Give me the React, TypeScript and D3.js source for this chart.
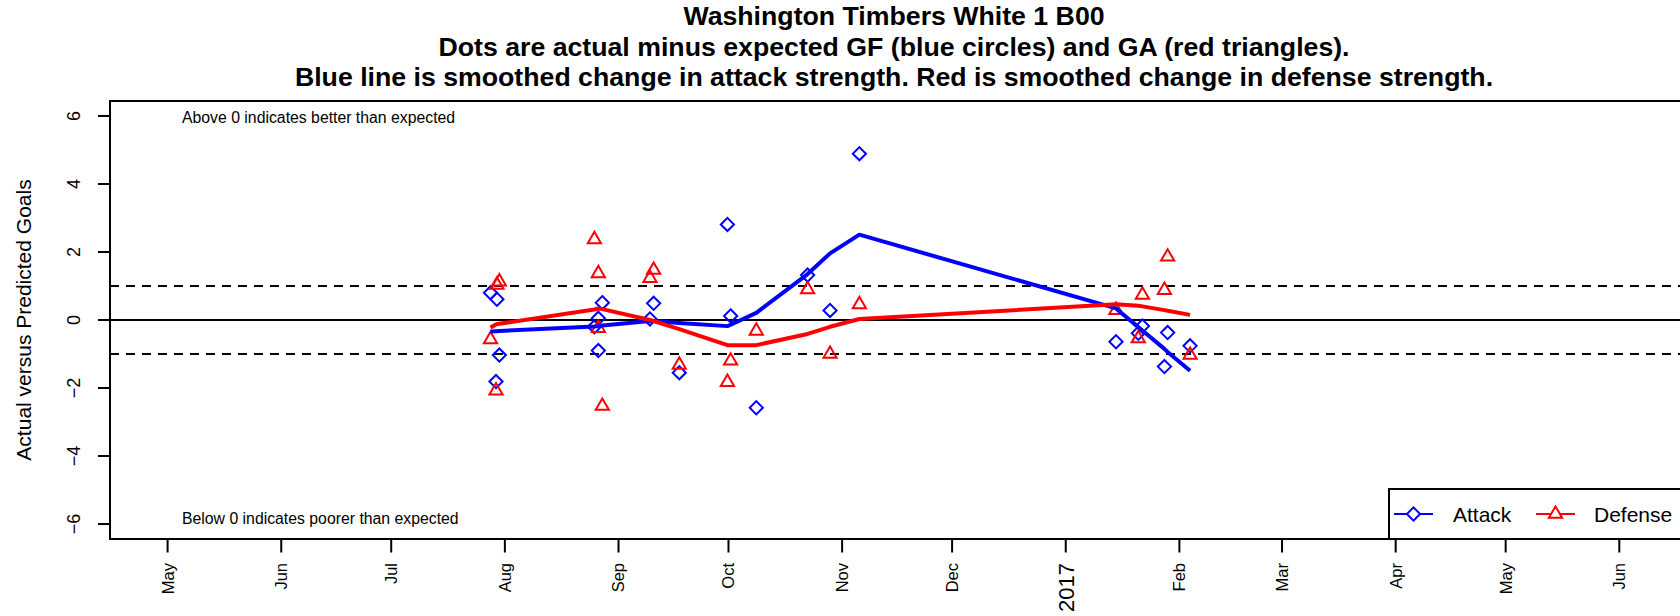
import * as React from "react";
import * as d3 from "d3";

// games: date, actual minus expected GF (attack) and GA (defense), plus smoothed lines
const gameDates = [
  "2016-07-28 02:00", "2016-07-29 14:00", "2016-07-29 20:00", "2016-07-30 12:00",
  "2016-08-25 10:00", "2016-08-26 12:00", "2016-08-26 12:00", "2016-08-27 14:00",
  "2016-09-09 14:00", "2016-09-10 14:00", "2016-09-17 14:00", "2016-09-30 17:00",
  "2016-10-01 14:00", "2016-10-08 14:00", "2016-10-22 14:00", "2016-10-28 17:00",
  "2016-11-05 17:00", "2017-01-14 17:00", "2017-01-20 19:00", "2017-01-21 22:00",
  "2017-01-27 22:00", "2017-01-28 19:00", "2017-02-03 22:00",
];
const attackDiff = [
  0.8, -1.81, 0.61, -1.03, -0.2, 0.05, -0.9, 0.51, 0.03, 0.49, -1.55, 2.81,
  0.12, -2.58, 1.32, 0.28, 4.89, -0.64, -0.39, -0.18, -1.37, -0.37, -0.76,
];
const defenseDiff = [
  -0.57, -2.08, 1.03, 1.13, 2.37, 1.37, -0.24, -2.53, 1.23, 1.47, -1.32, -1.83,
  -1.2, -0.32, 0.9, -1.0, 0.46, 0.29, -0.54, 0.74, 0.88, 1.86, -1.03,
];
const attackSmooth = [
  -0.34, -0.33, -0.33, -0.32, -0.19, -0.18, -0.18, -0.16, -0.03, -0.03, -0.09, -0.18,
  -0.14, 0.21, 1.35, 1.96, 2.51, 0.34, -0.21, -0.31, -0.85, -0.94, -1.49,
];
const defenseSmooth = [
  -0.22, -0.13, -0.12, -0.11, 0.31, 0.34, 0.34, 0.32, 0.0, -0.03, -0.27, -0.74,
  -0.74, -0.74, -0.41, -0.2, 0.03, 0.46, 0.42, 0.4, 0.29, 0.27, 0.15,
];

const monthTicks = [
  "2016-05-01", "2016-06-01", "2016-07-01", "2016-08-01", "2016-09-01", "2016-10-01",
  "2016-11-01", "2016-12-01", "2017-01-01", "2017-02-01", "2017-03-01", "2017-04-01",
  "2017-05-01", "2017-06-01",
];
const monthLabels = ["May", "Jun", "Jul", "Aug", "Sep", "Oct", "Nov", "Dec", "2017", "Feb", "Mar", "Apr", "May", "Jun"];
const yTicks = [-6, -4, -2, 0, 2, 4, 6];

const titleLines = [
  "Washington Timbers White 1 B00",
  "Dots are actual minus expected GF (blue circles) and GA (red triangles).",
  "Blue line is smoothed change in attack strength. Red is smoothed change in defense strength.",
];

const W = 1680;
const H = 616;
const PLOT = { left: 110, right: 1682, top: 101, bottom: 539 };
const FONT = "'Liberation Sans', Arial, Helvetica, sans-serif";
const BLUE = "#0000ff";
const RED = "#ff0000";

const parseTime = d3.timeParse("%Y-%m-%d %H:%M");
const parseDay = d3.timeParse("%Y-%m-%d");

const diamond = (x: number, y: number, r = 6.6) =>
  `M${x},${y - r}L${x + r},${y}L${x},${y + r}L${x - r},${y}Z`;
const triangle = (x: number, y: number, s = 4.9) =>
  `M${x},${y - 1.555 * s}L${x + 1.347 * s},${y + 0.778 * s}L${x - 1.347 * s},${y + 0.778 * s}Z`;

export default function App() {
  const dates = gameDates.map((d) => parseTime(d)!);
  const ticks = monthTicks.map((d) => parseDay(d)!);

  const xScale = d3.scaleTime().domain([ticks[0], ticks[ticks.length - 1]]).range([167.6, 1619.3]);
  const yScale = d3.scaleLinear().domain([-6.44, 6.44]).range([PLOT.bottom, PLOT.top]);

  const line = d3
    .line<number>()
    .x((_, i) => xScale(dates[i]))
    .y((v) => yScale(v));

  const legendY = 514;
  const titleX = (PLOT.left + PLOT.right) / 2 - 2;

  return (
    <svg
      width={W}
      height={H}
      style={{ position: "absolute", left: 0, top: 0, background: "#fff", display: "block" }}
      fontFamily={FONT}
    >
      {/* titles */}
      {titleLines.map((t, i) => (
        <text key={i} x={titleX} y={25 + i * 30.5} textAnchor="middle" fontWeight="bold" fontSize={26.7}>
          {t}
        </text>
      ))}

      {/* reference lines */}
      <line x1={PLOT.left} x2={PLOT.right} y1={yScale(0)} y2={yScale(0)} stroke="#000" strokeWidth={2} />
      {[1, -1].map((v) => (
        <line
          key={v}
          x1={PLOT.left}
          x2={PLOT.right}
          y1={yScale(v)}
          y2={yScale(v)}
          stroke="#000"
          strokeWidth={2}
          strokeDasharray="9 7"
        />
      ))}

      {/* points */}
      {attackDiff.map((v, i) => (
        <path key={`a${i}`} d={diamond(xScale(dates[i]), yScale(v))} fill="none" stroke={BLUE} strokeWidth={2} />
      ))}
      {defenseDiff.map((v, i) => (
        <path key={`d${i}`} d={triangle(xScale(dates[i]), yScale(v))} fill="none" stroke={RED} strokeWidth={2} />
      ))}

      {/* smoothed lines */}
      <path d={line(attackSmooth) ?? ""} fill="none" stroke={BLUE} strokeWidth={4} strokeLinejoin="round" />
      <path d={line(defenseSmooth) ?? ""} fill="none" stroke={RED} strokeWidth={4} strokeLinejoin="round" />

      {/* annotations */}
      <text x={182} y={123} fontSize={15.8}>Above 0 indicates better than expected</text>
      <text x={182} y={524} fontSize={15.8}>Below 0 indicates poorer than expected</text>

      {/* plot box */}
      <rect
        x={PLOT.left}
        y={PLOT.top}
        width={PLOT.right - PLOT.left}
        height={PLOT.bottom - PLOT.top}
        fill="none"
        stroke="#000"
        strokeWidth={2}
      />

      {/* y axis */}
      {yTicks.map((t) => (
        <g key={t}>
          <line x1={98} x2={PLOT.left} y1={yScale(t)} y2={yScale(t)} stroke="#000" strokeWidth={2} />
          <text
            transform={`translate(74,${yScale(t)}) rotate(-90)`}
            textAnchor="middle"
            dy="0.36em"
            fontSize={18}
          >
            {t < 0 ? `\u2212${Math.abs(t)}` : `${t}`}
          </text>
        </g>
      ))}
      <text transform={`translate(23,${yScale(0)}) rotate(-90)`} textAnchor="middle" dy="0.36em" fontSize={21}>
        Actual versus Predicted Goals
      </text>

      {/* x axis */}
      {ticks.map((t, i) => (
        <g key={i}>
          <line x1={xScale(t)} x2={xScale(t)} y1={PLOT.bottom} y2={552.5} stroke="#000" strokeWidth={2} />
          <text
            transform={`translate(${xScale(t)},563) rotate(-90)`}
            textAnchor="end"
            dy="0.36em"
            fontSize={monthLabels[i] === "2017" ? 22 : 16.5}
          >
            {monthLabels[i]}
          </text>
        </g>
      ))}

      {/* legend */}
      <rect x={1389} y={489} width={400} height={PLOT.bottom - 489} fill="#fff" stroke="#000" strokeWidth={2} />
      <line x1={1394} x2={1433} y1={legendY} y2={legendY} stroke={BLUE} strokeWidth={2} />
      <path d={diamond(1413.5, legendY)} fill="#fff" stroke={BLUE} strokeWidth={2} />
      <text x={1453} y={legendY} dy="0.36em" fontSize={21}>Attack</text>
      <line x1={1536} x2={1575} y1={legendY} y2={legendY} stroke={RED} strokeWidth={2} />
      <path d={triangle(1555.5, legendY)} fill="#fff" stroke={RED} strokeWidth={2} />
      <text x={1594} y={legendY} dy="0.36em" fontSize={21}>Defense</text>
    </svg>
  );
}
